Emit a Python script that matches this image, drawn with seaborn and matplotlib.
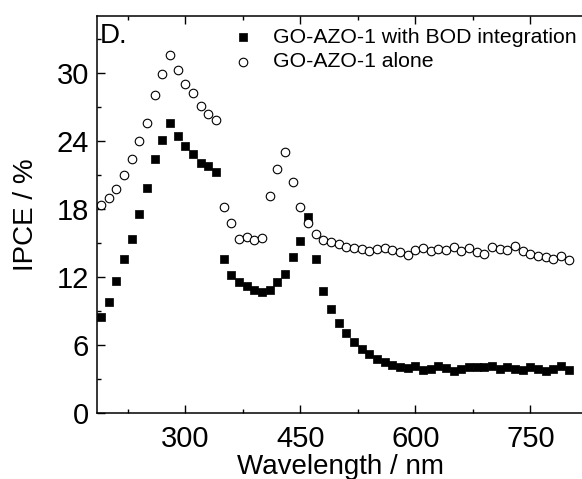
import numpy as np
import pandas as pd
import matplotlib
matplotlib.use("Agg")
import matplotlib.pyplot as plt
import seaborn as sns
from matplotlib.ticker import MultipleLocator

wavelength = list(range(190, 801, 10))
bod_integration = [8.5, 9.8, 11.7, 13.6, 15.4, 17.6, 19.9, 22.4, 24.1, 25.6,
                   24.5, 23.6, 22.9, 22.1, 21.8, 21.3, 13.6, 12.2, 11.6, 11.2,
                   10.9, 10.7, 10.9, 11.6, 12.3, 13.8, 15.2, 17.3, 13.6, 10.8,
                   9.2, 8.0, 7.1, 6.3, 5.7, 5.2, 4.8, 4.5, 4.3, 4.1,
                   4.0, 4.2, 3.8, 3.9, 4.2, 4.0, 3.7, 3.9, 4.1, 4.1,
                   4.1, 4.2, 3.9, 4.1, 3.9, 3.8, 4.1, 3.9, 3.7, 3.9,
                   4.2, 3.8]
alone = [18.4, 19.0, 19.8, 21.0, 22.4, 24.0, 25.6, 28.1, 29.9, 31.6,
         30.3, 29.1, 28.3, 27.1, 26.4, 25.9, 18.2, 16.8, 15.4, 15.6,
         15.3, 15.5, 19.2, 21.6, 23.1, 20.4, 18.2, 16.8, 15.8, 15.3,
         15.1, 14.9, 14.7, 14.6, 14.5, 14.3, 14.5, 14.6, 14.4, 14.2,
         14.0, 14.4, 14.6, 14.3, 14.5, 14.4, 14.7, 14.3, 14.6, 14.2,
         14.1, 14.7, 14.5, 14.4, 14.8, 14.3, 14.1, 13.9, 13.8, 13.6,
         13.9, 13.5]
series_names = ["GO-AZO-1 with BOD integration", "GO-AZO-1 alone"]
x_ticks = [300, 450, 600, 750]
y_ticks = [0, 6, 12, 18, 24, 30]

sns.set_style("ticks")
plt.rcParams['font.family'] = ['Liberation Sans', 'DejaVu Sans']
for key in ["text.color", "axes.labelcolor", "xtick.color", "ytick.color", "axes.edgecolor"]:
    plt.rcParams[key] = "black"

df1 = pd.DataFrame({"Wavelength": wavelength, "IPCE": bod_integration, "Series": series_names[0]})
df2 = pd.DataFrame({"Wavelength": wavelength, "IPCE": alone, "Series": series_names[1]})

fig = plt.figure(figsize=(5.82, 4.79), dpi=100)
W, H = 582, 479
left, right, top, bottom = 97.3, 584, 16, 413.3
ax = fig.add_axes([left / W, (H - bottom) / H, (right - left) / W, (bottom - top) / H])

sns.scatterplot(data=df1, x="Wavelength", y="IPCE", marker="s", color="black",
                edgecolor="black", s=32, linewidth=0.5, ax=ax, label=series_names[0])
sns.scatterplot(data=df2, x="Wavelength", y="IPCE", marker="o", facecolor="white",
                edgecolor="black", s=38, linewidth=0.8, ax=ax, label=series_names[1])

ax.set_xlim(185, 820)
ax.set_ylim(0, 35.06)
ax.set_xticks(x_ticks)
ax.set_yticks(y_ticks)
ax.xaxis.set_minor_locator(MultipleLocator(75))
ax.yaxis.set_minor_locator(MultipleLocator(3))
ax.tick_params(which="both", direction="in", top=True, right=False, width=1.0, color="black")
ax.tick_params(which="major", length=6, labelsize=21)
ax.tick_params(axis="x", which="major", pad=8.5)
ax.tick_params(axis="y", which="major", pad=6)
ax.tick_params(which="minor", length=3)
for sp in ["left", "bottom", "top"]:
    ax.spines[sp].set_visible(True)
    ax.spines[sp].set_linewidth(1.1)
    ax.spines[sp].set_color("black")
ax.spines["right"].set_visible(False)

ax.set_xlabel("Wavelength / nm", fontsize=20, labelpad=0.5)
ax.set_ylabel("IPCE / %", fontsize=20, labelpad=13)

ax.text(0.006, 0.982, "D.", transform=ax.transAxes, fontsize=20, va="top", ha="left")

leg = ax.legend(loc="upper left", bbox_to_anchor=(232.4 / W, 1 - 28 / H),
                bbox_transform=fig.transFigure, frameon=False,
                fontsize=15.3, handlelength=1.0, handletextpad=0.9,
                labelspacing=0.25, borderaxespad=0, borderpad=0,
                markerscale=1.0)

fig.savefig("out.png", dpi=100)
